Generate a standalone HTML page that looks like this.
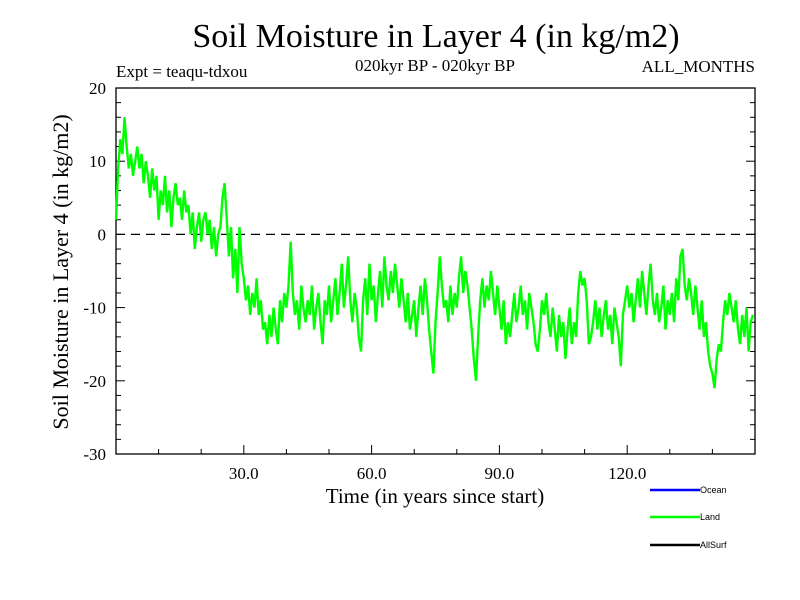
<!DOCTYPE html>
<html><head><meta charset="utf-8"><style>
body{margin:0;background:#fff}
svg{display:block}
text{font-family:"Liberation Serif",serif;fill:#000}
.leg{font-family:"Liberation Sans",sans-serif;font-size:9px}
</style></head><body>
<svg id="chart" width="800" height="600" viewBox="0 0 800 600">
<rect width="800" height="600" fill="#fff"/>
<text x="436" y="47" font-size="34" text-anchor="middle">Soil Moisture in Layer 4 (in kg/m2)</text>
<text x="116" y="77" font-size="17">Expt = teaqu-tdxou</text>
<text x="435" y="71" font-size="17" text-anchor="middle">020kyr BP - 020kyr BP</text>
<text x="755" y="72" font-size="17" text-anchor="end">ALL_MONTHS</text>
<text x="435" y="503" font-size="21" text-anchor="middle">Time (in years since start)</text>
<text transform="translate(68,272) rotate(-90)" font-size="22" text-anchor="middle">Soil Moisture in Layer 4 (in kg/m2)</text>
<g id="axes"></g>
<g id="series"></g>
<g>
<line x1="650" y1="490" x2="700" y2="490" stroke="#0000ff" stroke-width="2.5"/>
<text class="leg" x="700" y="493">Ocean</text>
<line x1="650" y1="517" x2="700" y2="517" stroke="#00ff00" stroke-width="2.5"/>
<text class="leg" x="700" y="520">Land</text>
<line x1="650" y1="545" x2="700" y2="545" stroke="#000" stroke-width="2.5"/>
<text class="leg" x="700" y="548">AllSurf</text>
</g>
</svg>
<script>
const xTickValues=[30,60,90,120];
const xTickLabels=["30.0","60.0","90.0","120.0"];
const yTickValues=[20,10,0,-10,-20,-30];
const yTickLabels=["20","10","0","-10","-20","-30"];
const timeStep=0.5;
const landValues=[
2,9,13,11,16,12,9,11,8,10,
12,9,11,7,10,8,5,9,6,8,
2,6,4,8,3,6,1,5,7,4,
5,2,6,3,4,0,3,-2,1,3,
-1,2,3,0,2,-2,1,-3,0,1,
5,7,2,-3,1,-6,-2,-8,1,-4,
-6,-9,-7,-11,-8,-10,-6,-11,-9,-13,
-12,-15,-11,-14,-10,-13,-15,-9,-12,-8,
-10,-7,-1,-8,-11,-9,-13,-7,-10,-12,
-9,-11,-7,-13,-10,-8,-12,-15,-9,-11,
-7,-12,-9,-6,-11,-8,-4,-10,-7,-3,
-9,-12,-8,-10,-14,-16,-9,-6,-11,-4,
-9,-7,-12,-8,-5,-10,-3,-7,-9,-5,
-8,-4,-7,-10,-6,-9,-12,-8,-13,-11,
-9,-14,-10,-7,-11,-6,-9,-13,-16,-19,
-12,-8,-3,-7,-10,-9,-12,-7,-11,-8,
-10,-6,-3,-8,-5,-7,-10,-13,-17,-20,
-14,-9,-6,-10,-7,-9,-5,-8,-11,-7,
-10,-13,-9,-15,-12,-14,-11,-8,-12,-10,
-7,-11,-9,-13,-8,-10,-12,-15,-16,-13,
-9,-11,-8,-12,-14,-10,-13,-16,-11,-14,
-12,-17,-13,-10,-15,-12,-14,-8,-5,-7,
-6,-9,-15,-14,-12,-9,-13,-10,-14,-11,
-9,-13,-11,-15,-10,-12,-14,-18,-11,-9,
-7,-10,-8,-12,-9,-6,-10,-5,-8,-11,
-7,-4,-9,-11,-8,-12,-10,-7,-13,-9,
-11,-8,-12,-6,-9,-3,-2,-7,-9,-6,
-8,-11,-7,-10,-13,-9,-14,-12,-16,-18,
-19,-21,-17,-15,-16,-12,-9,-11,-8,-10,
-12,-9,-13,-15,-11,-14,-10,-16,-12,-11];

const L=116,R=755,T=88,B=454,X0=0,X1=150,Y0=-30,Y1=20;
const xs=v=>L+(v-X0)/(X1-X0)*(R-L);
const ys=v=>B-(v-Y0)/(Y1-Y0)*(B-T);
const NS="http://www.w3.org/2000/svg";
function mk(tag,attrs,parent){const e=document.createElementNS(NS,tag);for(const k in attrs)e.setAttribute(k,attrs[k]);parent.appendChild(e);return e;}
const ax=document.getElementById('axes');
const frame=mk('rect',{x:L,y:T,width:R-L,height:B-T,fill:'none',stroke:'#000','stroke-width':1.3},ax);


const zl=mk('line',{x1:L,x2:R,y1:ys(0),y2:ys(0),stroke:'#000','stroke-width':1.3,'stroke-dasharray':'9,6'},ax);


for(let v=Y0;v<=Y1;v+=2){const y=ys(v);const maj=(v%10===0);const len=maj?9:5;
const t1=mk('line',{x1:L,x2:L+len,y1:y,y2:y,stroke:'#000','stroke-width':1},ax);


const t2=mk('line',{x1:R,x2:R-len,y1:y,y2:y,stroke:'#000','stroke-width':1},ax);

}
yTickValues.forEach((v,i)=>{const t=mk('text',{x:L-10,y:ys(v)+6,'font-size':17,'text-anchor':'end'},ax);t.textContent=yTickLabels[i];

});
for(let v=10;v<X1;v+=10){const x=xs(v);const len=(v%30===0)?9:5;
const t=mk('line',{x1:x,x2:x,y1:B,y2:B-len,stroke:'#000','stroke-width':1},ax);

}
xTickValues.forEach((v,i)=>{const t=mk('text',{x:xs(v),y:B+25,'font-size':17,'text-anchor':'middle'},ax);t.textContent=xTickLabels[i];

});
const pts=landValues.map((v,i)=>xs(i*timeStep).toFixed(1)+','+ys(v).toFixed(1)).join(' ');
const pl=mk('polyline',{points:pts,fill:'none',stroke:'#00ff00','stroke-width':2.4,'stroke-linejoin':'miter'},document.getElementById('series'));


</script>
</body></html>
